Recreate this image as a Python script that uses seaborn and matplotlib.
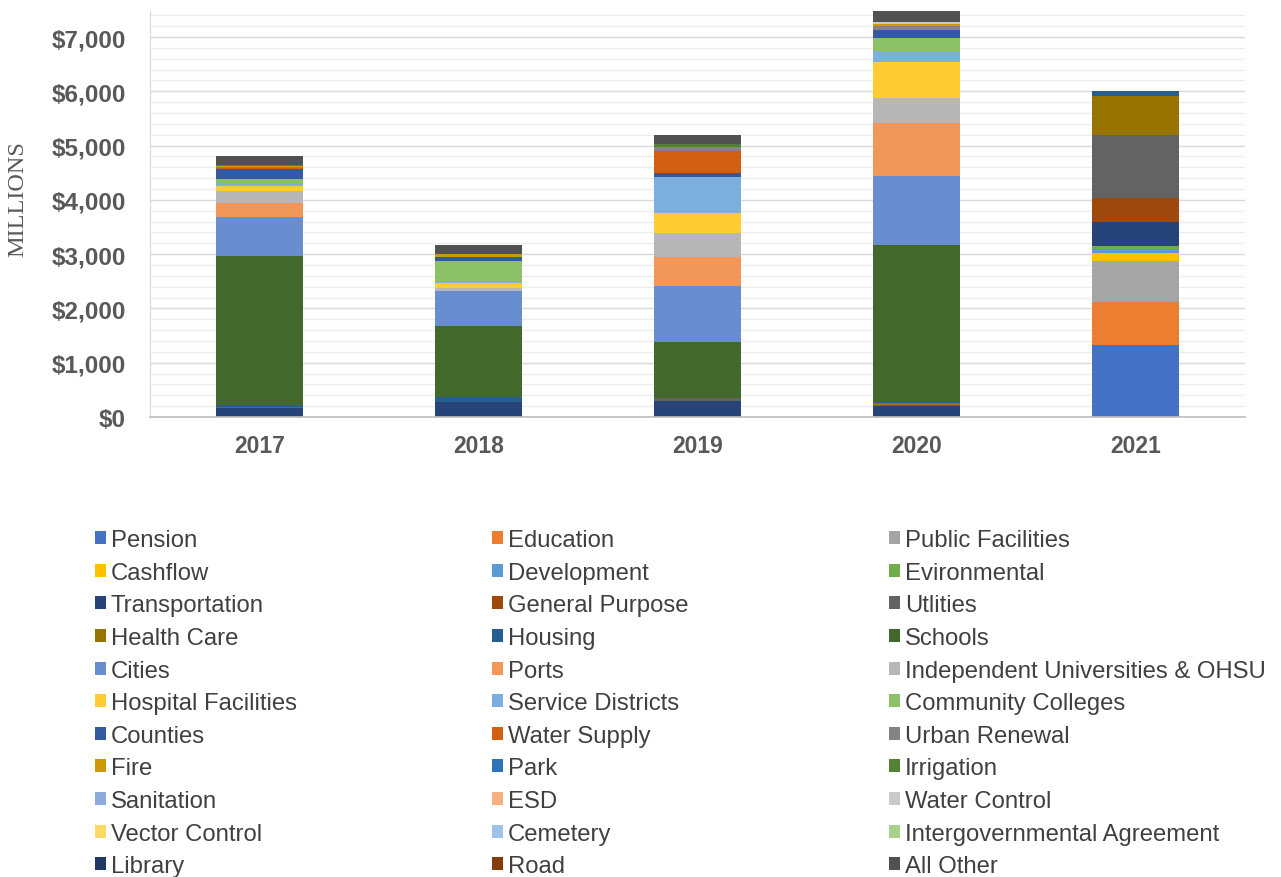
import numpy as np
import pandas as pd
import matplotlib
matplotlib.use('Agg')
import matplotlib.pyplot as plt
from matplotlib.patches import Patch
from matplotlib.ticker import MultipleLocator, FuncFormatter
import seaborn as sns

# ── data (millions of dollars), categories in stacking order ────────────────
years = [2017, 2018, 2019, 2020, 2021]
categories = ['Pension', 'Education', 'Public Facilities', 'Cashflow', 'Development',
              'Evironmental', 'Transportation', 'General Purpose', 'Utlities', 'Health Care',
              'Housing', 'Schools', 'Cities', 'Ports', 'Independent Universities & OHSU',
              'Hospital Facilities', 'Service Districts', 'Community Colleges', 'Counties',
              'Water Supply', 'Urban Renewal', 'Fire', 'Park', 'Irrigation', 'Sanitation',
              'ESD', 'Water Control', 'Vector Control', 'Cemetery',
              'Intergovernmental Agreement', 'Library', 'Road', 'All Other']

#            Pen  Edu  PubF Cash Dev  Env  Trans GenP Util HlthC Hous Schools Cities Ports IndU Hosp Serv CC  Cnty WatS UrbR Fire Park Irr San ESD WCtl Vec Cem IGA Lib Road Other
vals_2017 = [0,   0,   0,   0,   0,   0,   165,  8,   12,  0,    40,  2735,   730,   252,  215, 93,  55,  79, 184, 20,  15,  25,  0,   13, 0,  0,  0,   0,  0,  0,  0,  0,   161]
vals_2018 = [0,   0,   0,   0,   0,   0,   270,  0,   15,  0,    78,  1307,   651,   0,    49,  93,  48,  369, 73, 0,   0,   43,  0,   0,  0,  0,  0,   0,  0,  0,  0,  0,   172]
vals_2019 = [0,   0,   0,   0,   0,   0,   301,  0,   43,  0,    0,   1043,   1020,  534,  448, 363, 663, 0,  79,  412, 61,  0,   0,   62, 0,  0,  0,   0,  0,  0,  0,  0,   171]
vals_2020 = [0,   0,   0,   0,   0,   0,   197,  0,   15,  55,   15,  2892,   1271,  964,  472, 664, 203, 233, 147, 0,  80,  35,  0,   0,  0,  0,  38,  0,  0,  0,  0,  0,   250]
vals_2021 = [1332, 792, 755, 147, 68,  56,  436,  442, 1166, 724, 92,  0,      0,     0,    0,   0,   0,   0,  0,   0,   0,   0,   0,   0,  0,  0,  0,   0,  0,  0,  0,  0,   0]

colors = ['#4472C4', '#ED7D31', '#A5A5A5', '#FFC000', '#5B9BD5', '#70AD47',
          '#264478', '#9E480E', '#636363', '#997300', '#255E91', '#43682B',
          '#698ED0', '#F1975A', '#B7B7B7', '#FFCD33', '#7CAFDD', '#8CC168',
          '#335AA1', '#D26012', '#848484', '#CC9A00', '#2E75B6', '#548235',
          '#8FAADC', '#F4B183', '#C9C9C9', '#FFD966', '#9DC3E6', '#A9D18E',
          '#203864', '#843C0C', '#515151']

rows = []
for yr, vals in zip(years, [vals_2017, vals_2018, vals_2019, vals_2020, vals_2021]):
    for cat, v in zip(categories, vals):
        rows.append({'year': yr, 'category': cat, 'value': v})
df = pd.DataFrame(rows)

# ── plot ────────────────────────────────────────────────────────────────────
sns.set_style('white')
plt.rcParams['font.family'] = ['Liberation Sans', 'DejaVu Sans']

fig = plt.figure(figsize=(12.81, 8.78), dpi=100)
ax = fig.add_axes([150 / 1281, 1 - 418 / 878, 1095 / 1281, 406 / 878])

palette = dict(zip(categories, colors))
# histplot stacks the first hue level on top, so reverse the order
sns.histplot(data=df, x='year', weights='value', hue='category',
             hue_order=categories[::-1], palette=palette, multiple='stack',
             discrete=True, shrink=0.4, linewidth=0, alpha=1, legend=False, ax=ax)

ax.set_xlim(2016.5, 2021.5)
ax.set_ylim(0, 7480)
ax.set_xticks(years)
ax.set_xticklabels([str(y) for y in years], fontsize=16.5, fontweight='bold', color='#595959')
ax.yaxis.set_major_locator(MultipleLocator(1000))
ax.yaxis.set_minor_locator(MultipleLocator(200))
ax.yaxis.set_major_formatter(FuncFormatter(lambda v, p: f"${v:,.0f}"))
for lab in ax.get_yticklabels():
    lab.set_fontsize(17.5)
    lab.set_fontweight('bold')
    lab.set_color('#595959')
ax.tick_params(axis='y', length=0, pad=17.5)
ax.tick_params(axis='x', length=0, pad=12)
ax.grid(axis='y', which='major', color='#D9D9D9', linewidth=1.0)
ax.grid(axis='y', which='minor', color='#EDEDED', linewidth=1.0)
ax.set_axisbelow(True)
ax.set_xlabel('')
ax.set_ylabel('MILLIONS', family='Liberation Serif', fontsize=17.5, color='#595959')
ax.yaxis.set_label_coords(-0.111, 0.54)
for s in ['top', 'right']:
    ax.spines[s].set_visible(False)
ax.spines['left'].set_color('#D9D9D9')
ax.spines['bottom'].set_color('#BFBFBF')
ax.spines['bottom'].set_linewidth(1.2)

# ── legend: three columns, filled row by row ────────────────────────────────
handles = [Patch(facecolor=c, edgecolor='none', label=cat) for cat, c in zip(categories, colors)]
col_x = [95 / 1281, 492 / 1281, 889 / 1281]
for c in range(3):
    hs = handles[c::3]
    fig.legend(handles=hs, loc='upper left', bbox_to_anchor=(col_x[c], 1 - 530 / 878),
               ncol=1, frameon=False, fontsize=17.2, handlelength=0.46, handleheight=0.46,
               handletextpad=0.2, labelspacing=0.445, borderaxespad=0, borderpad=0,
               labelcolor='#404040')

plt.savefig('out.png', dpi=100)
